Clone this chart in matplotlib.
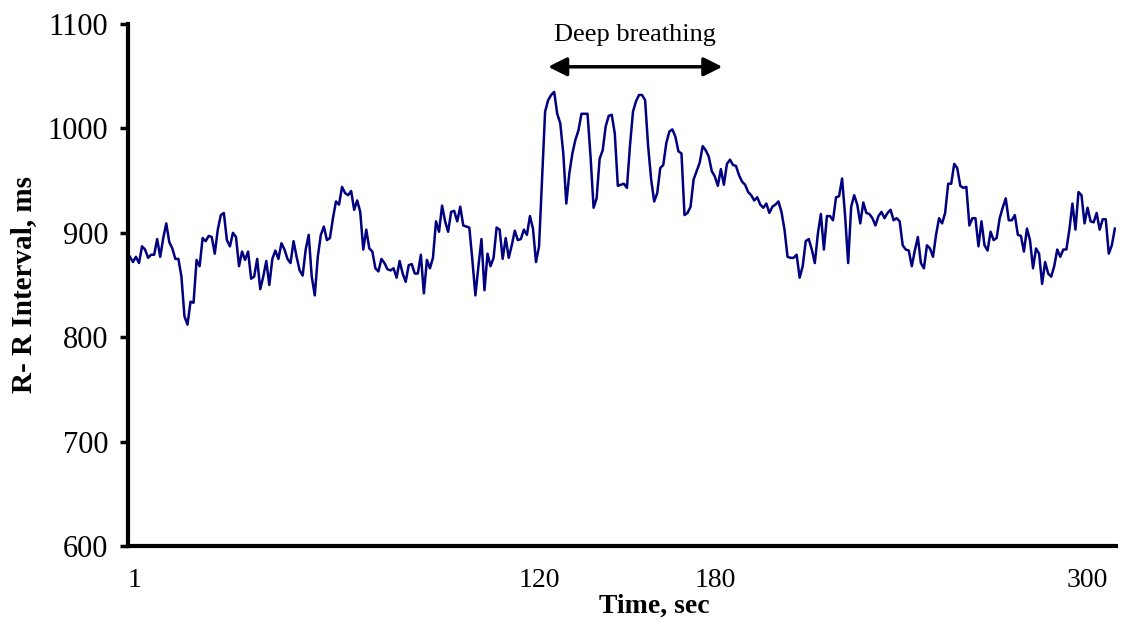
import matplotlib
matplotlib.use("Agg")
import matplotlib.pyplot as plt
import numpy as np

# R-R interval (ms), one value per sample
rr = [877, 872, 877, 871, 887, 884, 876, 879, 879, 894, 877, 895, 909, 891, 885, 875, 875, 858, 820, 812,
      834, 833, 874, 868, 895, 892, 897, 896, 880, 903, 917,
      919, 893, 887, 900, 896, 868, 882, 874, 882, 856, 858, 875, 846, 858, 873, 850, 875, 883, 875, 890,
      884, 875, 871, 892, 877, 864, 859, 884, 898, 858, 840, 877, 898, 906, 893,
      895, 914, 930, 927, 944, 938, 936, 940, 922, 931, 920, 884, 903, 885, 882, 866, 863, 875, 871, 865,
      864, 866, 857, 873, 861, 853, 869, 870, 861, 861, 879, 842,
      874, 866, 876, 911, 901, 926, 911, 901, 920, 921, 911, 925, 907, 906, 905, 874, 840, 868, 894, 845,
      880, 868, 876, 905, 903, 875, 895, 876, 888, 902, 893, 894, 903,
      898, 916, 904, 872, 887, 951, 1016, 1027, 1032, 1035, 1014, 1005, 976, 928, 957, 976, 989, 998, 1014, 1014,
      1014, 973, 924, 933, 971, 979, 1002, 1012, 1013, 995, 945, 946,
      947, 943, 983, 1016, 1026, 1032, 1032, 1027, 983, 951, 930, 938, 962, 965, 986, 997, 999, 992, 978, 976,
      917, 919, 925, 951, 959, 967, 983, 979, 973, 959, 954, 945, 961, 946,
      966, 970, 965, 964, 955, 949, 946, 939, 936, 931, 934, 927, 924, 928, 919, 925, 927, 930, 920, 903,
      877, 876, 876, 879, 857, 868, 892, 894, 884, 871, 899, 918, 884,
      916, 916, 912, 934, 935, 952, 916, 871, 925, 936, 927, 909, 929, 919, 918, 914, 907, 916, 920, 914,
      919, 922, 912, 914, 911, 888, 884, 883, 868, 883, 896, 871, 866,
      888, 885, 877, 898, 914, 909, 919, 947, 947, 966, 962, 945, 943, 944, 907, 914, 914, 887, 911, 888,
      883, 901, 893, 895, 914, 924, 933, 912, 912, 917, 898, 897,
      882, 904, 893, 866, 885, 880, 851, 872, 861, 858, 868, 884, 877, 884, 884, 903, 928, 903, 939, 936,
      909, 924, 911, 910, 919, 903, 913, 913, 880, 888, 904]
samples = np.arange(len(rr))

xtick_labels = ["1", "120", "180", "300"]
xtick_pos = [1.6, 135, 193, 316]
yticks = [600, 700, 800, 900, 1000, 1100]

# deep breathing window (sample index)
db_start, db_end = 138, 195.5

plt.rcParams['font.family'] = ['Liberation Serif', 'DejaVu Serif']

fig = plt.figure(figsize=(11.22, 6.23), dpi=100)
ax = fig.add_axes([0.114, 0.1236, 0.8807, 0.8379])

ax.plot(samples, rr, color='#000080', lw=1.8)

ax.set_xlim(-0.66, 325.4)
ax.set_ylim(600, 1100)
ax.set_yticks(yticks)
ax.set_yticklabels([str(v) for v in yticks], fontsize=22)
ax.set_xticks(xtick_pos)
ax.set_xticklabels(xtick_labels, fontsize=20)
ax.tick_params(axis='x', length=0, pad=16)
ax.tick_params(axis='y', length=6, width=2.5, direction='out', pad=8)

for s in ['top', 'right']:
    ax.spines[s].set_visible(False)
for s in ['left', 'bottom']:
    ax.spines[s].set_linewidth(3)

ax.set_ylabel("R- R Interval, ms", fontsize=21, fontweight='bold', labelpad=14)
ax.yaxis.set_label_coords(-0.092, 0.5)
ax.set_xlabel("Time, sec", fontsize=20, fontweight='bold')
ax.xaxis.set_label_coords(0.533, -0.092)

ax.annotate("", xy=(db_start, 1059), xytext=(db_end, 1059),
            arrowprops=dict(arrowstyle='<|-|>', color='black', lw=2.5,
                            mutation_scale=28, shrinkA=0, shrinkB=0))
ax.text((db_start + db_end) / 2, 1089, "Deep breathing", ha='center', va='center', fontsize=19)

fig.savefig("out.png", dpi=100)
